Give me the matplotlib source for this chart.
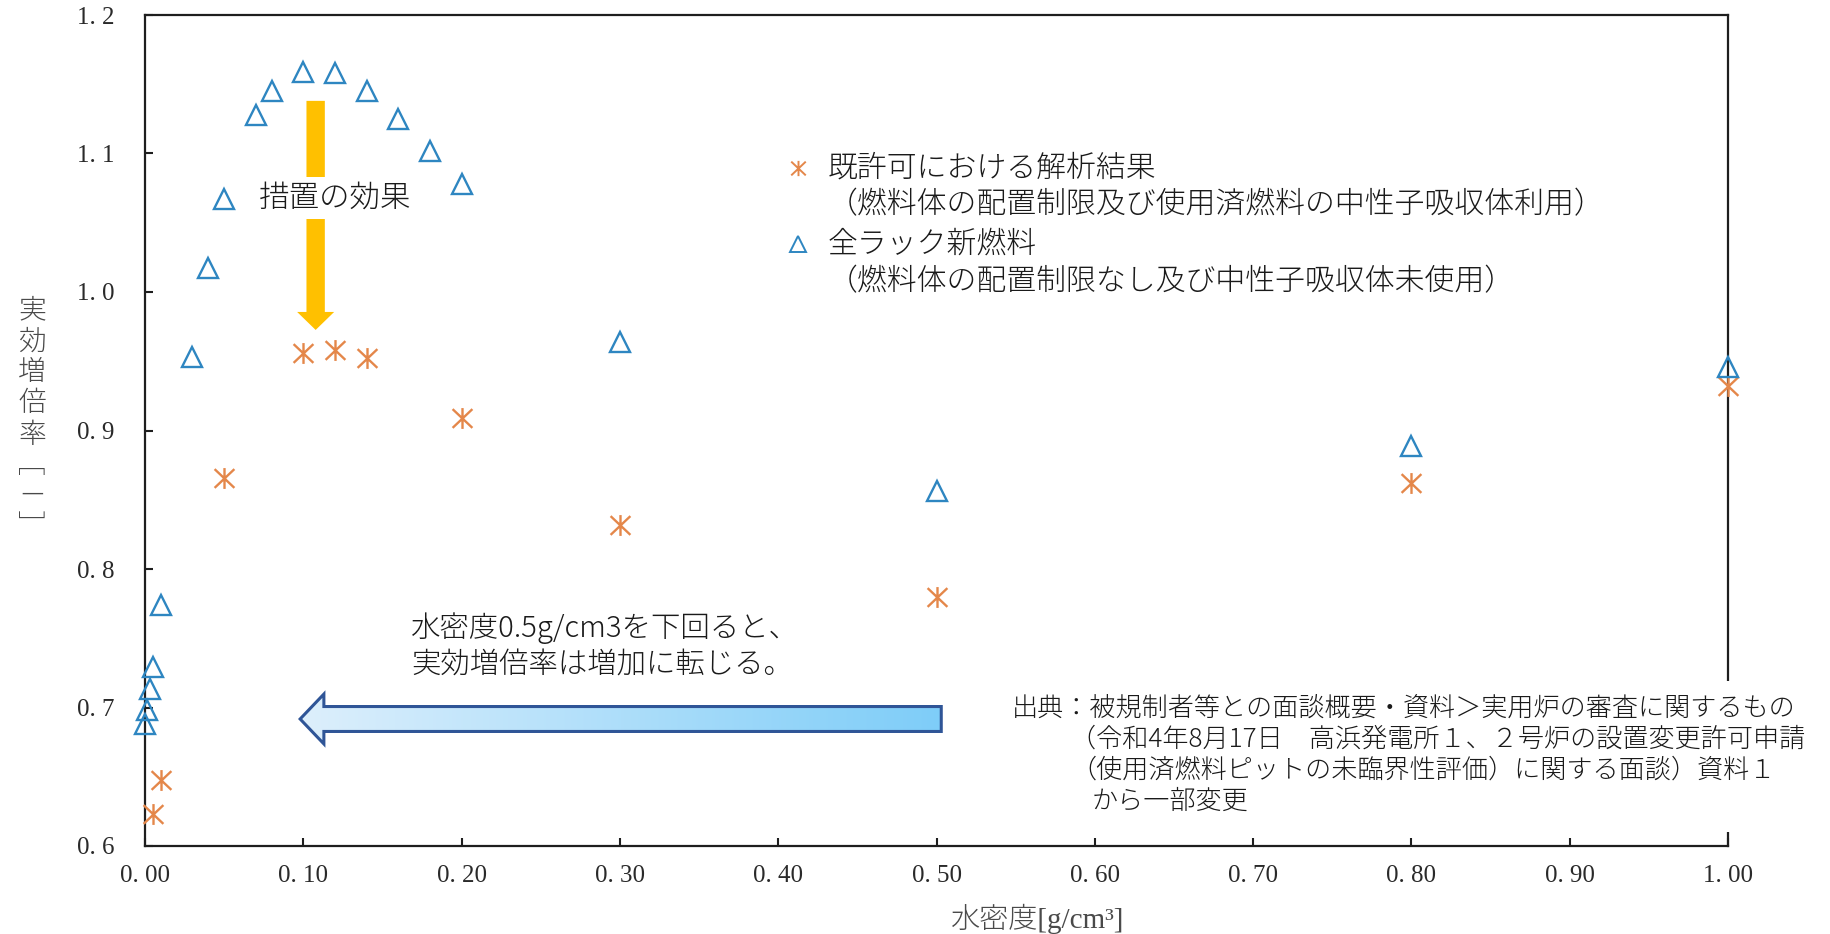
import matplotlib
matplotlib.use("Agg")
import matplotlib.pyplot as plt
import numpy as np
from matplotlib.path import Path
from matplotlib.patches import Polygon, Rectangle
from matplotlib.colors import LinearSegmentedColormap

plt.rcParams['font.family'] = ['Noto Sans CJK JP', 'DejaVu Sans']

# ---------------- data ----------------
density_new = [0.0, 0.001, 0.003, 0.005, 0.01, 0.03, 0.04, 0.05, 0.07, 0.08,
               0.10, 0.12, 0.14, 0.16, 0.18, 0.20, 0.30, 0.50, 0.80, 1.00]
keff_new = [0.688, 0.698, 0.713, 0.729, 0.774, 0.953, 1.017, 1.067, 1.128, 1.145,
            1.159, 1.158, 1.145, 1.125, 1.102, 1.078, 0.964, 0.856, 0.889, 0.946]

density_lic = [0.005, 0.01, 0.05, 0.10, 0.12, 0.14, 0.20, 0.30, 0.50, 0.80, 1.00]
keff_lic = [0.623, 0.648, 0.866, 0.956, 0.958, 0.952, 0.909, 0.832, 0.780, 0.862, 0.932]

xticks = [0.0, 0.1, 0.2, 0.3, 0.4, 0.5, 0.6, 0.7, 0.8, 0.9, 1.0]
xtick_labels = ['0. 00', '0. 10', '0. 20', '0. 30', '0. 40', '0. 50',
                '0. 60', '0. 70', '0. 80', '0. 90', '1. 00']
yticks = [0.6, 0.7, 0.8, 0.9, 1.0, 1.1, 1.2]
ytick_labels = ['0. 6', '0. 7', '0. 8', '0. 9', '1. 0', '1. 1', '1. 2']

label_lic = '既許可における解析結果'
label_lic2 = '（燃料体の配置制限及び使用済燃料の中性子吸収体利用）'
label_new = '全ラック新燃料'
label_new2 = '（燃料体の配置制限なし及び中性子吸収体未使用）'
ylabel_chars = ['実', '効', '増', '倍', '率', '﹇', '－', '﹈']
xlabel = '水密度[g/cm³]'
note_lines = ['水密度0.5g/cm3を下回ると、', '実効増倍率は増加に転じる。']
effect_label = '措置の効果'
source_lines = ['出典：被規制者等との面談概要・資料＞実用炉の審査に関するもの',
                '（令和4年8月17日　高浜発電所１、２号炉の設置変更許可申請',
                '（使用済燃料ピットの未臨界性評価）に関する面談）資料１',
                'から一部変更']

# ---------------- style ----------------
W, H = 1830, 934
C_NEW = '#2E86C1'
C_LIC = '#E4874A'
C_AX = '#1e1e1e'
TXT_W = 300


def fx(x):
    return x / W


def fy(y):
    return 1 - y / H


# asterisk marker (vertical + X)
ast_verts = [(0, -1), (0, 1), (-0.95, -0.9), (0.95, 0.9), (-0.95, 0.9), (0.95, -0.9)]
ast_codes = [Path.MOVETO, Path.LINETO] * 3
ast_marker = Path(ast_verts, ast_codes)

fig = plt.figure(figsize=(W / 100, H / 100), dpi=100)
ax = fig.add_axes([fx(145), 1 - 846 / H, (1728 - 145) / W, (846 - 15) / H])

ax.plot(density_lic, keff_lic, linestyle='none', marker=ast_marker, ms=15,
        mfc='none', mec=C_LIC, mew=1.7, clip_on=False, zorder=5)
ax.plot(density_new, keff_new, linestyle='none', marker='^', ms=14,
        mfc='none', mec=C_NEW, mew=1.7, clip_on=False, zorder=5)

# orange arrow (measure effect)
oc = 0.1078
o_verts = [(oc - 0.0058, 1.138), (oc + 0.0058, 1.138), (oc + 0.0058, 0.9856),
           (oc + 0.0117, 0.9856), (oc, 0.9726), (oc - 0.0117, 0.9856), (oc - 0.0058, 0.9856)]
ax.add_patch(Polygon(o_verts, closed=True, facecolor='#FFC000', edgecolor='none', zorder=3))

# blue gradient arrow
yc = 0.6917
b_verts = [(0.098, yc), (0.113, yc + 0.018), (0.113, yc + 0.009), (0.503, yc + 0.009),
           (0.503, yc - 0.009), (0.113, yc - 0.009), (0.113, yc - 0.018)]
bpoly = Polygon(b_verts, closed=True, facecolor='none', edgecolor='#2F5597', lw=2.2, zorder=4)
ax.add_patch(bpoly)
grad = np.linspace(0, 1, 256).reshape(1, -1)
cmap = LinearSegmentedColormap.from_list('g', ['#DDEFFC', '#7ECDF8'])
im = ax.imshow(grad, extent=[0.098, 0.503, yc - 0.02, yc + 0.02], aspect='auto',
               cmap=cmap, zorder=3, interpolation='bilinear')
im.set_clip_path(bpoly)

ax.set_xlim(0, 1.0)
ax.set_ylim(0.6, 1.2)
ax.set_xticks(xticks)
ax.set_xticklabels(xtick_labels)
ax.set_yticks(yticks)
ax.set_yticklabels(ytick_labels)
for s in ax.spines.values():
    s.set_color(C_AX)
    s.set_linewidth(1.6)
ax.tick_params(direction='in', length=6, width=1.5, color=C_AX,
               labelcolor='#2a2a2a', labelsize=18)
ax.tick_params(axis='y', pad=22)
ax.tick_params(axis='x', pad=14)
for lab in ax.get_xticklabels() + ax.get_yticklabels():
    lab.set_fontfamily(['Liberation Serif'])

# axis labels
fig.text(fx(32), fy(420), '\n'.join(ylabel_chars), ha='center', va='center',
         fontsize=20, color='#4a4a4a', linespacing=1.3, fontweight=TXT_W,
         family=['Liberation Serif', 'Noto Sans CJK JP', 'DejaVu Sans'])
fig.text(fx(1038), fy(919), xlabel, ha='center', va='center', fontsize=21,
         color='#4a4a4a', fontweight=TXT_W,
         family=['Liberation Serif', 'Noto Sans CJK JP', 'DejaVu Sans'])

# legend (manual)
ax.plot([fx(798)], [fy(168)], transform=fig.transFigure, marker=ast_marker, ms=11,
        mfc='none', mec=C_LIC, mew=1.4, clip_on=False, linestyle='none')
ax.plot([fx(798)], [fy(244)], transform=fig.transFigure, marker='^', ms=11,
        mfc='none', mec=C_NEW, mew=1.4, clip_on=False, linestyle='none')
for txt, yy in [(label_lic, 168), (label_lic2, 205), (label_new, 244), (label_new2, 282)]:
    fig.text(fx(828), fy(yy), txt, ha='left', va='center', fontsize=21.5,
             color='#1a1a1a', fontweight=TXT_W)

# effect label
fig.text(fx(335), fy(198), effect_label, ha='center', va='center', fontsize=22,
         color='#1a1a1a', fontweight=TXT_W,
         bbox=dict(boxstyle='square,pad=0.15', fc='white', ec='none'))

# note text
for txt, yy in zip(note_lines, [628, 664]):
    fig.text(fx(411), fy(yy), txt, ha='left', va='center', fontsize=21.2,
             color='#1a1a1a', fontweight=TXT_W)

# source box
fig.patches.append(Rectangle((fx(1005), fy(832)), fx(1822) - fx(1005), fy(681) - fy(832),
                             transform=fig.transFigure, facecolor='white', edgecolor='none',
                             zorder=2.9))
for txt, xx, yy in zip(source_lines, [1012, 1070, 1070, 1092], [708, 739, 770, 802]):
    fig.text(fx(xx), fy(yy), txt, ha='left', va='center', fontsize=18.8,
             color='#1a1a1a', fontweight=TXT_W)

fig.savefig('out.png', dpi=100, facecolor='white')
